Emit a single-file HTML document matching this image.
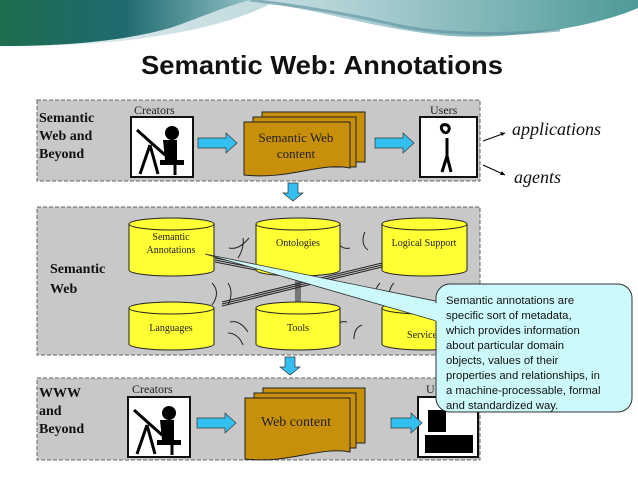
<!DOCTYPE html>
<html><head><meta charset="utf-8"><style>
html,body{margin:0;padding:0;background:#fff;}
svg{display:block;}
.s{font-family:"Liberation Serif",serif;}
.a{font-family:"Liberation Sans",sans-serif;}
</style></head><body>
<svg width="638" height="479" viewBox="0 0 638 479" xmlns="http://www.w3.org/2000/svg">
<defs>
<linearGradient id="bl" x1="0" y1="0" x2="1" y2="0">
<stop offset="0" stop-color="#1d6d4e"/><stop offset="0.5" stop-color="#1f6a70"/><stop offset="1" stop-color="#8fbfc4"/></linearGradient>
<linearGradient id="br" x1="0" y1="0" x2="1" y2="0">
<stop offset="0" stop-color="#e6f0f2"/><stop offset="0.5" stop-color="#b9d6da"/><stop offset="1" stop-color="#4e9a98"/></linearGradient>
</defs>
<!-- banner -->
<path d="M0 0 H638 V8 C600 25 520 40 450 36 C380 30 320 10 270 4 C220 30 120 48 0 46 Z" fill="url(#br)"/>
<path d="M0 0 H250 C220 8 200 18 170 28 C120 42 60 46 0 46 Z" fill="url(#bl)"/>
<path d="M250 0 C300 6 350 14 400 26 C440 34 500 36 560 30" stroke="#5a8fa0" stroke-width="3" fill="none" opacity="0.6"/>
<text x="322" y="74" text-anchor="middle" class="a" font-weight="bold" font-size="26" fill="#111" textLength="362" lengthAdjust="spacingAndGlyphs">Semantic Web: Annotations</text>

<!-- panels -->
<g fill="#c8c8c8" stroke="#666" stroke-dasharray="4,2" stroke-width="1">
<rect x="37" y="100" width="443" height="81"/>
<rect x="37" y="207" width="443" height="148"/>
<rect x="37" y="378" width="443" height="82"/>
</g>
<!-- panel labels -->
<g class="s" font-weight="bold" font-size="14" fill="#111">
<text x="39" y="122">Semantic</text><text x="39" y="140">Web and</text><text x="39" y="158">Beyond</text>
<text x="50" y="273">Semantic</text><text x="50" y="293">Web</text>
<text x="39" y="397">WWW</text><text x="39" y="415">and</text><text x="39" y="433">Beyond</text>
</g>
<g class="s" font-size="12" fill="#222">
<text x="134" y="114">Creators</text><text x="430" y="114">Users</text>
<text x="132" y="393">Creators</text><text x="426" y="393">U</text>
</g>
<!-- creators boxes -->
<g>
<rect x="131" y="117" width="62" height="60" fill="#fff" stroke="#111" stroke-width="2"/>
<circle cx="172" cy="133" r="7" fill="#000"/>
<path d="M163 140 h14 v20 h-12 z M160 160 h24 v5 h-24z" fill="#000"/>
<path d="M137 130 L165 155 M150 145 L140 174 M150 145 L158 174 M175 165 v10" stroke="#000" stroke-width="3"/>
<rect x="128" y="397" width="62" height="60" fill="#fff" stroke="#111" stroke-width="2"/>
<circle cx="169" cy="413" r="7" fill="#000"/>
<path d="M160 420 h14 v20 h-12 z M157 440 h24 v5 h-24z" fill="#000"/>
<path d="M134 410 L162 435 M147 425 L137 454 M147 425 L155 454 M172 445 v10" stroke="#000" stroke-width="3"/>
</g>
<!-- users -->
<rect x="420" y="117" width="57" height="60" fill="#fff" stroke="#111" stroke-width="2"/>
<path d="M445 133 c-6 -4 -4 -10 2 -8 c4 2 2 8 -2 8 M447 138 v18 l-5 16 M447 156 l4 16" stroke="#000" stroke-width="3" fill="none"/>
<rect x="418" y="397" width="60" height="60" fill="#fff" stroke="#111" stroke-width="2"/>
<rect x="428" y="410" width="18" height="22" fill="#000"/><rect x="425" y="435" width="48" height="18" fill="#000"/>
<!-- blue arrows -->
<g fill="#33c0f0" stroke="#333" stroke-width="0.7">
<path d="M198 138 h28 v-5 l11 10 l-11 10 v-5 h-28z"/>
<path d="M375 138 h28 v-5 l11 10 l-11 10 v-5 h-28z"/>
<path d="M197 418 h28 v-5 l11 10 l-11 10 v-5 h-28z"/>
<path d="M391 418 h20 v-5 l11 10 l-11 10 v-5 h-20z"/>
<path d="M288 183 h10 v10 h5 l-10 8 l-10 -8 h5z"/>
<path d="M285 357 h10 v10 h5 l-10 8 l-10 -8 h5z"/>
</g>
<!-- doc stacks -->
<g fill="#c8900a" stroke="#222" stroke-width="1">
<path d="M262 112 h103 v50 h-103z"/>
<path d="M253 117 h103 v50 h-103z"/>
<path d="M244 122 h106 v46 c-30 -6 -60 12 -106 7z"/>
<path d="M263 388 h102 v55 h-102z"/>
<path d="M254 393 h102 v55 h-102z"/>
<path d="M245 398 h105 v54 c-30 -6 -60 12 -105 7z"/>
</g>
<g class="s" font-size="13" fill="#222" text-anchor="middle">
<text x="296" y="142">Semantic Web</text><text x="296" y="158">content</text>
<text x="296" y="426" font-size="14">Web content</text>
</g>
<!-- apps/agents -->
<path d="M483 141 L505 133" stroke="#000"/><path d="M505 133 l-5 -1 l2 4z" fill="#000"/>
<path d="M483 165 L505 175" stroke="#000"/><path d="M505 175 l-3 -4 l-2 4z" fill="#000"/>
<text x="512" y="135" class="s" font-style="italic" font-size="18" fill="#111">applications</text>
<text x="514" y="183" class="s" font-style="italic" font-size="18" fill="#111">agents</text>
<!-- connectors -->
<g stroke="#222" stroke-width="1" fill="none">
<path d="M215 258 L440 302 M215 260 L440 304 M215 262 L440 306"/>
<path d="M222 302 L382 263 M222 304 L382 265 M222 306 L382 267"/>
<path d="M296 263 V306 M298 263 V306 M300 263 V306"/>
<path d="M229 248 c8 2 15 -4 20 -10 M238 258 c4 -6 6 -14 5 -20 M350 248 c-8 2 -12 -4 -15 -10 M368 250 c-6 -4 -6 -12 -3 -18 M212 283 c6 6 6 14 0 22 M228 283 c4 6 4 14 0 22 M380 283 c-6 6 -6 14 0 22 M394 283 c-6 6 -6 14 0 22 M230 322 c8 -2 14 4 18 10 M228 333 c6 0 12 4 15 12 M347 322 c-8 -2 -12 4 -15 10 M362 325 c-6 2 -8 8 -8 14"/>
</g>
<!-- cylinders -->
<g fill="#ffff33" stroke="#222" stroke-width="1">
<path d="M129 224 v46 a42.5 6 0 0 0 85 0 v-46"/><ellipse cx="171.5" cy="224" rx="42.5" ry="6"/>
<path d="M256 224 v46 a42 6 0 0 0 84 0 v-46"/><ellipse cx="298" cy="224" rx="42" ry="6"/>
<path d="M382 224 v46 a42.5 6 0 0 0 85 0 v-46"/><ellipse cx="424.5" cy="224" rx="42.5" ry="6"/>
<path d="M129 308 v36 a42.5 6 0 0 0 85 0 v-36"/><ellipse cx="171.5" cy="308" rx="42.5" ry="6"/>
<path d="M256 308 v36 a42 6 0 0 0 84 0 v-36"/><ellipse cx="298" cy="308" rx="42" ry="6"/>
<path d="M382 308 v36 a42.5 6 0 0 0 85 0 v-36"/><ellipse cx="424.5" cy="308" rx="42.5" ry="6"/>
</g>
<g class="s" font-size="10" fill="#222" text-anchor="middle">
<text x="171" y="240">Semantic</text><text x="171" y="253">Annotations</text>
<text x="298" y="246">Ontologies</text><text x="424" y="246">Logical Support</text>
<text x="171" y="331">Languages</text><text x="298" y="331">Tools</text><text x="424" y="338">Services</text>
</g>
<!-- callout -->
<path d="M205 254 L440 322 L440 302 Z" fill="#ccfafa" stroke="#333" stroke-width="0.8"/>
<rect x="436" y="284" width="196" height="128" rx="14" fill="#ccfafa" stroke="#333" stroke-width="1"/>
<path d="M437 303 L437 321" stroke="#ccfafa" stroke-width="3"/>
<g class="a" font-size="11.3" fill="#111">
<text x="446" y="304">Semantic annotations are</text>
<text x="446" y="319">specific sort of metadata,</text>
<text x="446" y="334">which provides information</text>
<text x="446" y="349">about particular domain</text>
<text x="446" y="364">objects, values of their</text>
<text x="446" y="379">properties and relationships, in</text>
<text x="446" y="394">a machine-processable, formal</text>
<text x="446" y="409">and standardized way.</text>
</g>
</svg>
</body></html>
